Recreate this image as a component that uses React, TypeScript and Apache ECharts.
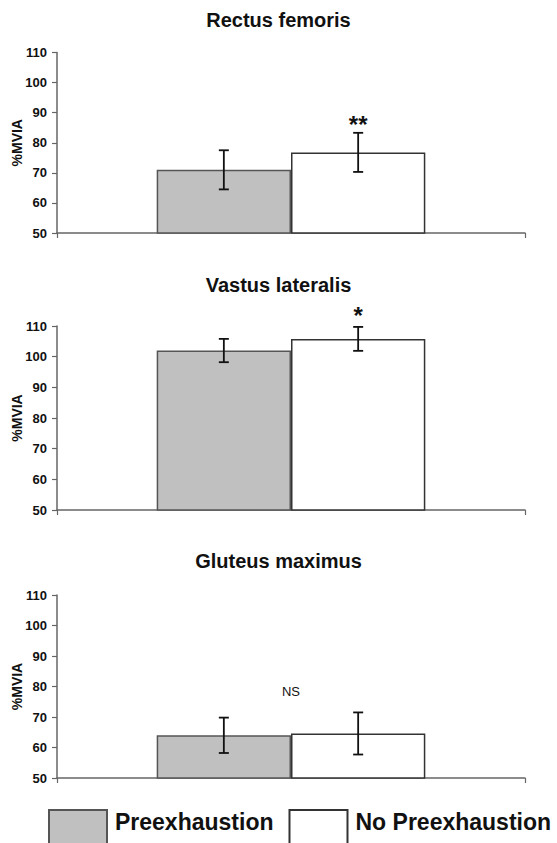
import React, { useEffect, useRef } from "react";
import * as echarts from "echarts";

const muscles = ["Rectus femoris", "Vastus lateralis", "Gluteus maximus"];
const groupNames = ["Preexhaustion", "No Preexhaustion"];
const preMean = [71, 102, 64];
const preSD = [6.5, 3.8, 5.8];
const noPreMean = [76.8, 105.8, 64.6];
const noPreSD = [6.5, 3.9, 6.9];
const sigLabels = ["**", "*", "NS"];
const sigAt = [87.4, 114.6, 78.3];
const sigSide = [1, 1, 0];
const yMin = 50;
const yMax = 110;
const yStep = 10;

const FONT = "'Liberation Sans', Arial, Helvetica, sans-serif";
const grids = [
  { top: 52.5, height: 180.5 },
  { top: 326, height: 184 },
  { top: 595, height: 183 },
];
const titleTops = [5, 270, 546];
const BAR_PCT = 0.287;

export default function App() {
  const ref = useRef<HTMLDivElement>(null);
  useEffect(() => {
    if (!ref.current) return;
    const chart = echarts.init(ref.current, null, { renderer: "svg" });
    const series: any[] = [];
    muscles.forEach((m, k) => {
      series.push({
        type: "bar",
        name: groupNames[0],
        xAxisIndex: k,
        yAxisIndex: k,
        data: [preMean[k]],
        barWidth: BAR_PCT * 100 + "%",
        barGap: "0%",
        itemStyle: { color: "#c0c0c0", borderColor: "#555", borderWidth: 1.5 },
      });
      series.push({
        type: "bar",
        name: groupNames[1],
        xAxisIndex: k,
        yAxisIndex: k,
        data: [noPreMean[k]],
        barWidth: BAR_PCT * 100 + "%",
        barGap: "0%",
        itemStyle: { color: "#ffffff", borderColor: "#333", borderWidth: 1.5 },
      });
      series.push({
        type: "custom",
        xAxisIndex: k,
        yAxisIndex: k,
        z: 5,
        silent: true,
        encode: { x: 0, y: 1 },
        data: [
          [0, preMean[k], preSD[k], -1],
          [0, noPreMean[k], noPreSD[k], 1],
        ],
        renderItem: (params: any, api: any) => {
          const mean = api.value(1);
          const sd = api.value(2);
          const side = api.value(3);
          const band = api.size([1, 0])[0];
          const off = (side * band * BAR_PCT) / 2;
          const top = api.coord([0, mean + sd]);
          const bot = api.coord([0, mean - sd]);
          const x = top[0] + off;
          const cap = 5;
          const st = { stroke: "#111", lineWidth: 1.8 };
          return {
            type: "group",
            children: [
              { type: "line", shape: { x1: x, y1: top[1], x2: x, y2: bot[1] }, style: st },
              { type: "line", shape: { x1: x - cap, y1: top[1], x2: x + cap, y2: top[1] }, style: st },
              { type: "line", shape: { x1: x - cap, y1: bot[1], x2: x + cap, y2: bot[1] }, style: st },
            ],
          };
        },
      });
      series.push({
        type: "custom",
        xAxisIndex: k,
        yAxisIndex: k,
        z: 6,
        silent: true,
        encode: { x: 0, y: 1 },
        data: [[0, sigAt[k], sigSide[k]]],
        renderItem: (params: any, api: any) => {
          const side = api.value(2);
          const band = api.size([1, 0])[0];
          const off = (side * band * BAR_PCT) / 2;
          const p = api.coord([0, api.value(1)]);
          const isStar = sigLabels[k].indexOf("*") >= 0;
          return {
            type: "text",
            x: p[0] + off,
            y: p[1] + (isStar ? 4 : 0),
            style: {
              text: sigLabels[k],
              fill: "#111",
              font: isStar ? `bold 24px ${FONT}` : `13px ${FONT}`,
              align: "center",
              verticalAlign: "middle",
            },
          };
        },
      });
    });

    const option: any = {
      animation: false,
      backgroundColor: "#ffffff",
      title: muscles.map((m, k) => ({
        text: m,
        left: "center",
        top: titleTops[k],
        textStyle: { fontFamily: FONT, fontSize: 20, fontWeight: "bold", color: "#111" },
      })),
      legend: {
        data: groupNames,
        left: 48,
        top: 809,
        padding: 0,
        itemWidth: 58,
        itemHeight: 34,
        itemGap: 15,
        icon: "rect",
        selectedMode: false,
        formatter: (name: string) => `{t|${name}}`,
        textStyle: {
          fontFamily: FONT,
          fontSize: 23,
          fontWeight: "bold",
          color: "#111",
          rich: {
            t: {
              fontFamily: FONT,
              fontSize: 23,
              fontWeight: "bold",
              color: "#111",
              padding: [0, 0, 10, 3],
            },
          },
        },
      },
      grid: grids.map((g) => ({
        left: 57,
        right: 32,
        top: g.top,
        height: g.height,
        containLabel: false,
        outerBoundsMode: "none",
      })),
      xAxis: muscles.map((m, k) => ({
        type: "category",
        gridIndex: k,
        data: [m],
        axisLine: { lineStyle: { color: "#666", width: 1.5 } },
        axisTick: { show: true, length: 5, lineStyle: { color: "#666", width: 1.2 } },
        axisLabel: { show: false },
        splitLine: { show: false },
      })),
      yAxis: muscles.map((m, k) => ({
        type: "value",
        gridIndex: k,
        min: yMin,
        max: yMax,
        interval: yStep,
        name: "%MVIA",
        nameLocation: "middle",
        nameGap: 33,
        nameMoveOverlap: false,
        nameTextStyle: { fontFamily: FONT, fontSize: 14, fontWeight: "bold", color: "#111" },
        axisLine: { show: true, lineStyle: { color: "#666", width: 1.5 } },
        axisTick: { show: true, length: 5, lineStyle: { color: "#666", width: 1.2 } },
        axisLabel: { fontFamily: FONT, fontSize: 13, fontWeight: "bold", color: "#111", margin: 10 },
        splitLine: { show: false },
      })),
      series,
    };
    chart.setOption(option);
    return () => chart.dispose();
  }, []);
  return (
    <div
      ref={ref}
      style={{ position: "fixed", left: 0, top: 0, width: 557, height: 843, background: "#fff" }}
    />
  );
}
